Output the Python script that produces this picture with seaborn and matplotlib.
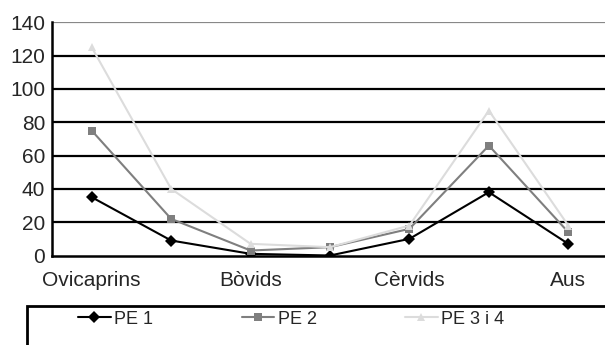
import pandas as pd
import matplotlib
matplotlib.use('Agg')
import matplotlib.pyplot as plt
import seaborn as sns

# categories (only every other one is labelled on the axis)
categories = ['Ovicaprins', 'Suids', 'Bòvids', 'Èquids', 'Cèrvids', 'Lepòrids', 'Aus']
shown_labels = ['Ovicaprins', 'Bòvids', 'Cèrvids', 'Aus']
pe1 = [35, 9, 1, 0, 10, 38, 7]
pe2 = [75, 22, 3, 5, 16, 66, 14]
pe34 = [125, 40, 7, 5, 18, 87, 18]
series = ['PE 1', 'PE 2', 'PE 3 i 4']

rows = []
for name, vals in zip(series, [pe1, pe2, pe34]):
    for i, v in enumerate(vals):
        rows.append({'pos': i, 'cat': categories[i], 'valor': v, 'serie': name})
df = pd.DataFrame(rows)

sns.set_style('white')
plt.rcParams['font.family'] = ['Liberation Sans', 'DejaVu Sans']

fig = plt.figure(figsize=(6.05, 3.45), dpi=100)
ax = fig.add_axes([52/605, 1-255.5/345, (608-52)/605, (255.5-22.3)/345])

# legend box as an empty axes, running off the right and bottom edges
box_top = 1 - 306/345
box = fig.add_axes([27/605, -0.1, 1.0, 0.1 + box_top])
box.set_xlim(0, 1)
box.set_ylim(0, 1)
box.axis('off')
box.plot([0, 0, 1], [0, 1, 1], color='black', lw=2, clip_on=False,
         solid_joinstyle='miter')

# gridlines
for y in range(20, 121, 20):
    ax.axhline(y, color='black', lw=1.6, zorder=0)
ax.axhline(140, color='#888888', lw=1.6, zorder=0)

palette = {'PE 1': 'black', 'PE 2': '#7f7f7f', 'PE 3 i 4': '#dcdcdc'}
markers = {'PE 1': 'D', 'PE 2': 's', 'PE 3 i 4': '^'}
sns.lineplot(data=df, x='pos', y='valor', hue='serie', style='serie',
             palette=palette, markers=markers, dashes=False, lw=1.5,
             markersize=6, markeredgewidth=0, ax=ax, legend=True, zorder=3)

ax.set_xlim(-0.5, 6.5)
ax.set_ylim(0, 140)
ax.set_yticks(range(0, 141, 20))
ax.set_xticks([i - 0.5 for i in range(8)])
ax.set_xticklabels([])
ax.set_xticks([0, 2, 4, 6], minor=True)
ax.set_xticklabels(shown_labels, minor=True)
ax.tick_params(axis='x', which='major', length=4, width=1.5, color='black', direction='out')
ax.tick_params(axis='x', which='minor', length=0, pad=11, labelsize=15)
ax.tick_params(axis='y', length=4, width=1.5, color='black', direction='out', pad=1, labelsize=15)
ax.set_xlabel('')
ax.set_ylabel('')
for s in ['top', 'right']:
    ax.spines[s].set_visible(False)
for s in ['left', 'bottom']:
    ax.spines[s].set_color('black')
    ax.spines[s].set_linewidth(1.8)

handles, labels = ax.get_legend_handles_labels()
ax.get_legend().remove()
leg = fig.legend(handles, labels, ncol=3, loc='center left',
                 bbox_to_anchor=(78/605, 1-319/345), frameon=False,
                 fontsize=13, handlelength=1.8, handletextpad=0.2,
                 columnspacing=4.9, borderpad=0, borderaxespad=0)

fig.savefig('out.png', dpi=100)
